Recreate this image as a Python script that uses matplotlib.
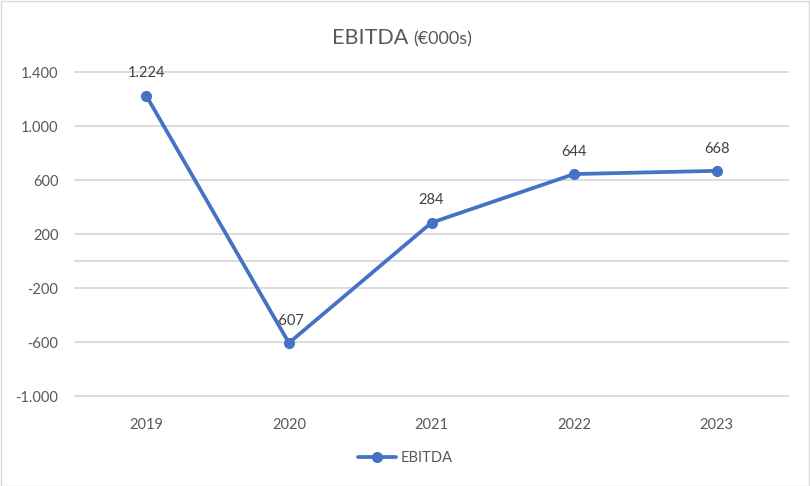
import matplotlib
matplotlib.use("Agg")
import matplotlib.pyplot as plt
from matplotlib.ticker import FuncFormatter
from matplotlib.patches import Rectangle

years = ["2019", "2020", "2021", "2022", "2023"]
ebitda = [1224, -607, 284, 644, 668]
series_name = "EBITDA"

plt.rcParams['font.family'] = ['Lato', 'DejaVu Sans']
TXT = "#595959"
GRID = "#D9D9D9"
LINE = "#4472C4"

W, H = 810, 486
fig = plt.figure(figsize=(W / 100, H / 100), dpi=100)
fig.patches.append(Rectangle((0.5 / W, 0.5 / H), 1 - 1.5 / W, 1 - 1.5 / H,
                             transform=fig.transFigure, fill=False,
                             edgecolor="#D9D9D9", linewidth=1))

left, right, top, bottom = 75, 788, 72, 396
ax = fig.add_axes([left / W, 1 - bottom / H, (right - left) / W, (bottom - top) / H])

def fmt(v, pos=None):
    s = f"{abs(int(round(v))):,}".replace(",", ".")
    return ("-" if v < 0 else "") + s

x = list(range(len(years)))
ax.plot(x, ebitda, color=LINE, linewidth=2.7, marker="o", markersize=7,
        label=series_name, zorder=3, solid_capstyle="round")
for xi, v in zip(x, ebitda):
    ax.annotate(fmt(v), xy=(xi, v), xytext=(0, 11), textcoords="offset points",
                ha="center", va="bottom", fontsize=10.5, color="#404040", zorder=2)

ax.set_xlim(-0.5, len(years) - 0.5)
ax.set_ylim(-1000, 1400)
ax.set_yticks([-1000, -600, -200, 200, 600, 1000, 1400])
ax.yaxis.set_major_formatter(FuncFormatter(fmt))
ax.set_xticks(x)
ax.set_xticklabels(years)
ax.grid(False)
for yv in [-1000, -600, -200, 200, 600, 1000, 1400, 0]:
    ax.axhline(yv, color=GRID, linewidth=1.3, zorder=1, clip_on=False)
for s in ax.spines.values():
    s.set_visible(False)
ax.tick_params(axis="both", length=0, labelsize=10.5, labelcolor=TXT)
ax.tick_params(axis="y", pad=12)
ax.tick_params(axis="x", pad=16)

fig.text(408 / W, 1 - 44 / H, "EBITDA", ha="right", va="baseline",
         fontsize=15.5, color=TXT)
fig.text(413 / W, 1 - 44 / H, "(€000s)", ha="left", va="baseline",
         fontsize=13, color=TXT)

fig.legend(loc="center", bbox_to_anchor=(0.5, 1 - 458 / H), frameon=False,
           fontsize=10.5, labelcolor=TXT, handlelength=2.6, handletextpad=0.3)

fig.savefig("out.png", dpi=100)
